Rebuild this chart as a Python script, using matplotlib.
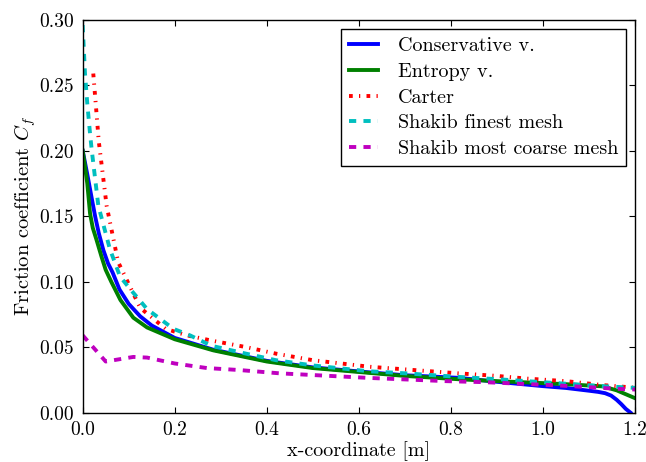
import matplotlib
matplotlib.use("Agg")
import matplotlib.pyplot as plt

# ---------------- data ----------------
cons_x = [0.0, 0.01, 0.02, 0.027, 0.035, 0.045, 0.055, 0.065, 0.08, 0.1, 0.125, 0.15,
          0.2, 0.284, 0.4, 0.5, 0.62, 0.7, 0.818, 0.9, 1.0, 1.05, 1.1, 1.12, 1.135,
          1.148, 1.16, 1.17, 1.18, 1.19]
cons_y = [0.200, 0.182, 0.163, 0.150, 0.137, 0.124, 0.114, 0.107, 0.094, 0.083, 0.0735,
          0.0665, 0.057, 0.048, 0.0395, 0.0345, 0.0308, 0.0285, 0.0265, 0.0235, 0.0202,
          0.0188, 0.0167, 0.0158, 0.0148, 0.0130, 0.0098, 0.0065, 0.0028, 0.0]

entr_x = [0.0, 0.005, 0.01, 0.016, 0.022, 0.03, 0.041, 0.05, 0.062, 0.082, 0.11, 0.14,
          0.2, 0.284, 0.4, 0.5, 0.62, 0.7, 0.815, 0.9, 1.0, 1.06, 1.13, 1.16, 1.18, 1.2]
entr_y = [0.200, 0.188, 0.175, 0.152, 0.141, 0.132, 0.119, 0.109, 0.100, 0.086, 0.0725,
          0.065, 0.056, 0.0475, 0.039, 0.034, 0.0304, 0.028, 0.0255, 0.024, 0.0225,
          0.0215, 0.020, 0.017, 0.014, 0.011]

carter_x = [0.023, 0.035, 0.052, 0.077, 0.125, 0.18, 0.226, 0.28, 0.355, 0.42, 0.5,
            0.623, 0.7, 0.815, 0.9, 0.963, 1.05, 1.13, 1.2]
carter_y = [0.259, 0.207, 0.158, 0.115, 0.080, 0.064, 0.059, 0.055, 0.050, 0.045, 0.040,
            0.035, 0.033, 0.030, 0.028, 0.026, 0.024, 0.021, 0.019]

fine_x = [0.0, 0.005, 0.01, 0.016, 0.0195, 0.034, 0.059, 0.081, 0.104, 0.14, 0.197,
          0.233, 0.28, 0.355, 0.42, 0.5, 0.62, 0.7, 0.815, 0.9, 1.0, 1.128, 1.2]
fine_y = [0.296, 0.259, 0.236, 0.213, 0.201, 0.158, 0.125, 0.104, 0.094, 0.079, 0.064,
          0.059, 0.051, 0.045, 0.040, 0.036, 0.0316, 0.030, 0.0273, 0.0255, 0.0232,
          0.0202, 0.0189]

coarse_x = [0.0, 0.05, 0.11, 0.14, 0.2, 0.27, 0.34, 0.427, 0.62, 0.79, 0.875, 1.034,
            1.164, 1.2]
coarse_y = [0.059, 0.039, 0.0425, 0.042, 0.0375, 0.034, 0.0325, 0.030, 0.0265, 0.024,
            0.0232, 0.0207, 0.0181, 0.0176]

labels = ["Conservative v.", "Entropy v.", "Carter", "Shakib finest mesh",
          "Shakib most coarse mesh"]
xticks = [0.0, 0.2, 0.4, 0.6, 0.8, 1.0, 1.2]
yticks = [0.00, 0.05, 0.10, 0.15, 0.20, 0.25, 0.30]

# ---------------- style ----------------
plt.rcParams['font.family'] = 'serif'
plt.rcParams['font.serif'] = ['cmr10', 'DejaVu Serif']
plt.rcParams['mathtext.fontset'] = 'cm'
plt.rcParams['axes.formatter.use_mathtext'] = True
plt.rcParams['lines.scale_dashes'] = False
plt.rcParams['xtick.direction'] = 'in'
plt.rcParams['ytick.direction'] = 'in'
plt.rcParams['xtick.top'] = True
plt.rcParams['ytick.right'] = True
plt.rcParams['xtick.major.size'] = 4
plt.rcParams['ytick.major.size'] = 4
plt.rcParams['xtick.major.pad'] = 6
plt.rcParams['ytick.major.pad'] = 6

fig = plt.figure(figsize=(6.46, 4.62), dpi=100, facecolor='white')
ax = fig.add_axes([0.128, 0.107, 0.855, 0.850])

lw = 2.8
ax.plot(cons_x, cons_y, color='blue', lw=lw, label=labels[0])
ax.plot(entr_x, entr_y, color='green', lw=lw, label=labels[1])
ax.plot(carter_x, carter_y, color='red', lw=lw, dashes=(2.7, 4.5, 0.9, 4.5),
        label=labels[2])
ax.plot(fine_x, fine_y, color='c', lw=lw, dashes=(5.2, 5.2), label=labels[3])
ax.plot(coarse_x, coarse_y, color='m', lw=lw, dashes=(5.2, 5.2), label=labels[4])

ax.set_xlim(0, 1.2)
ax.set_ylim(0, 0.30)
ax.set_xticks(xticks)
ax.set_xticklabels([f"{t:.1f}" for t in xticks])
ax.set_yticks(yticks)
ax.set_yticklabels([f"{t:.2f}" for t in yticks])
ax.tick_params(labelsize=14)

ax.set_xlabel("x-coordinate [m]", fontsize=14.5, labelpad=2)
ax.set_ylabel("Friction coefficient $C_f$", fontsize=14.8, labelpad=1)

leg = ax.legend(loc='upper right', fontsize=14.5, handlelength=1.45, fancybox=False,
                framealpha=1, edgecolor='black', borderaxespad=0.45,
                labelspacing=0.38, handletextpad=0.95)
leg.get_frame().set_linewidth(1.0)

for s in ax.spines.values():
    s.set_linewidth(1.0)

fig.savefig("out.png", dpi=100, facecolor='white')
